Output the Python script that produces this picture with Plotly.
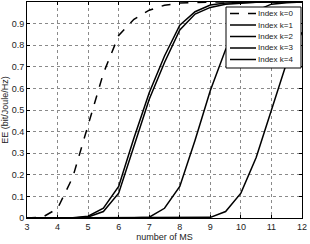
import plotly.graph_objects as go

x_ms = [3, 3.5, 4, 4.5, 5, 5.5, 6, 6.5, 7, 7.5, 8, 8.5, 9, 9.5, 10, 10.5, 11, 11.5, 12]

ee_k0 = [0, 0.003, 0.044, 0.19, 0.43, 0.67, 0.845, 0.92, 0.962, 0.985, 0.995, 0.998, 1, 1, 1, 1, 1, 1, 1]
ee_k1 = [0, 0, 0, 0.001, 0.008, 0.045, 0.146, 0.37, 0.58, 0.75, 0.893, 0.955, 0.986, 0.995, 0.998, 1, 1, 1, 1]
ee_k2 = [0, 0, 0, 0, 0.005, 0.03, 0.115, 0.33, 0.55, 0.72, 0.871, 0.944, 0.975, 0.99, 0.996, 0.999, 1, 1, 1]
ee_k3 = [0, 0, 0, 0, 0, 0, 0, 0.001, 0.004, 0.045, 0.146, 0.36, 0.59, 0.78, 0.9, 0.96, 0.99, 0.997, 1]
ee_k4 = [0, 0, 0, 0, 0, 0, 0, 0, 0, 0, 0, 0, 0.003, 0.03, 0.115, 0.28, 0.50, 0.72, 0.86]

names = ["Index k=0", "Index k=1", "Index k=2", "Index k=3", "Index k=4"]
series = [ee_k0, ee_k1, ee_k2, ee_k3, ee_k4]
dashes = ["dash", "solid", "solid", "solid", "solid"]

W, H = 310, 244
ML, MR, MT, MB = 27, 8, 2, 26
PW, PH = W - ML - MR, H - MT - MB


def px(xp):
    return (xp - ML) / PW


def py(yp):
    return (H - MB - yp) / PH


FONT = "Liberation Sans, Arial"

fig = go.Figure()
for nm, ys, d in zip(names, series, dashes):
    fig.add_trace(go.Scatter(x=x_ms, y=ys, mode="lines", name=nm, showlegend=False,
                             line=dict(color="black", width=1.5, dash=d)))

axis_common = dict(showline=True, linecolor="black", linewidth=1, mirror="ticks",
                   ticks="inside", ticklen=3, tickcolor="black",
                   showgrid=True, gridcolor="#8a8a8a", griddash="dot", gridwidth=1,
                   zeroline=False, tickfont=dict(family=FONT, size=9, color="#222"))

fig.update_xaxes(range=[3, 12], dtick=1, tick0=3,
                 title=dict(text="number of MS", font=dict(family=FONT, size=9, color="#222"), standoff=2),
                 **axis_common)
fig.update_yaxes(range=[0, 1],
                 tickvals=[0, 0.1, 0.2, 0.3, 0.4, 0.5, 0.6, 0.7, 0.8, 0.9, 1],
                 ticktext=["0", "0.1", "0.2", "0.3", "0.4", "0.5", "0.6", "0.7", "0.8", "0.9", "1"],
                 title=dict(text="EE (bit/Joule/Hz)", font=dict(family=FONT, size=9, color="#222"), standoff=2),
                 **axis_common)

# manual compact legend (MATLAB style)
shapes = [dict(type="rect", xref="paper", yref="paper",
               x0=px(226), x1=px(301), y0=py(68), y1=py(7),
               fillcolor="white", line=dict(color="black", width=1), layer="above")]
annots = []
row_y = [13.5, 25, 36.5, 48, 59.5]
for nm, d, ry in zip(names, dashes, row_y):
    shapes.append(dict(type="line", xref="paper", yref="paper",
                       x0=px(230), x1=px(256), y0=py(ry), y1=py(ry),
                       line=dict(color="black", width=1.5, dash=d), layer="above"))
    annots.append(dict(xref="paper", yref="paper", x=px(257), y=py(ry),
                       xanchor="left", yanchor="middle", text=nm, showarrow=False,
                       borderpad=0,
                       font=dict(family=FONT, size=8, color="#222")))

fig.update_layout(
    width=W, height=H,
    margin=dict(l=ML, r=MR, t=MT, b=MB),
    paper_bgcolor="white", plot_bgcolor="white",
    showlegend=False,
    shapes=shapes, annotations=annots,
)

fig.write_html("out.html")
